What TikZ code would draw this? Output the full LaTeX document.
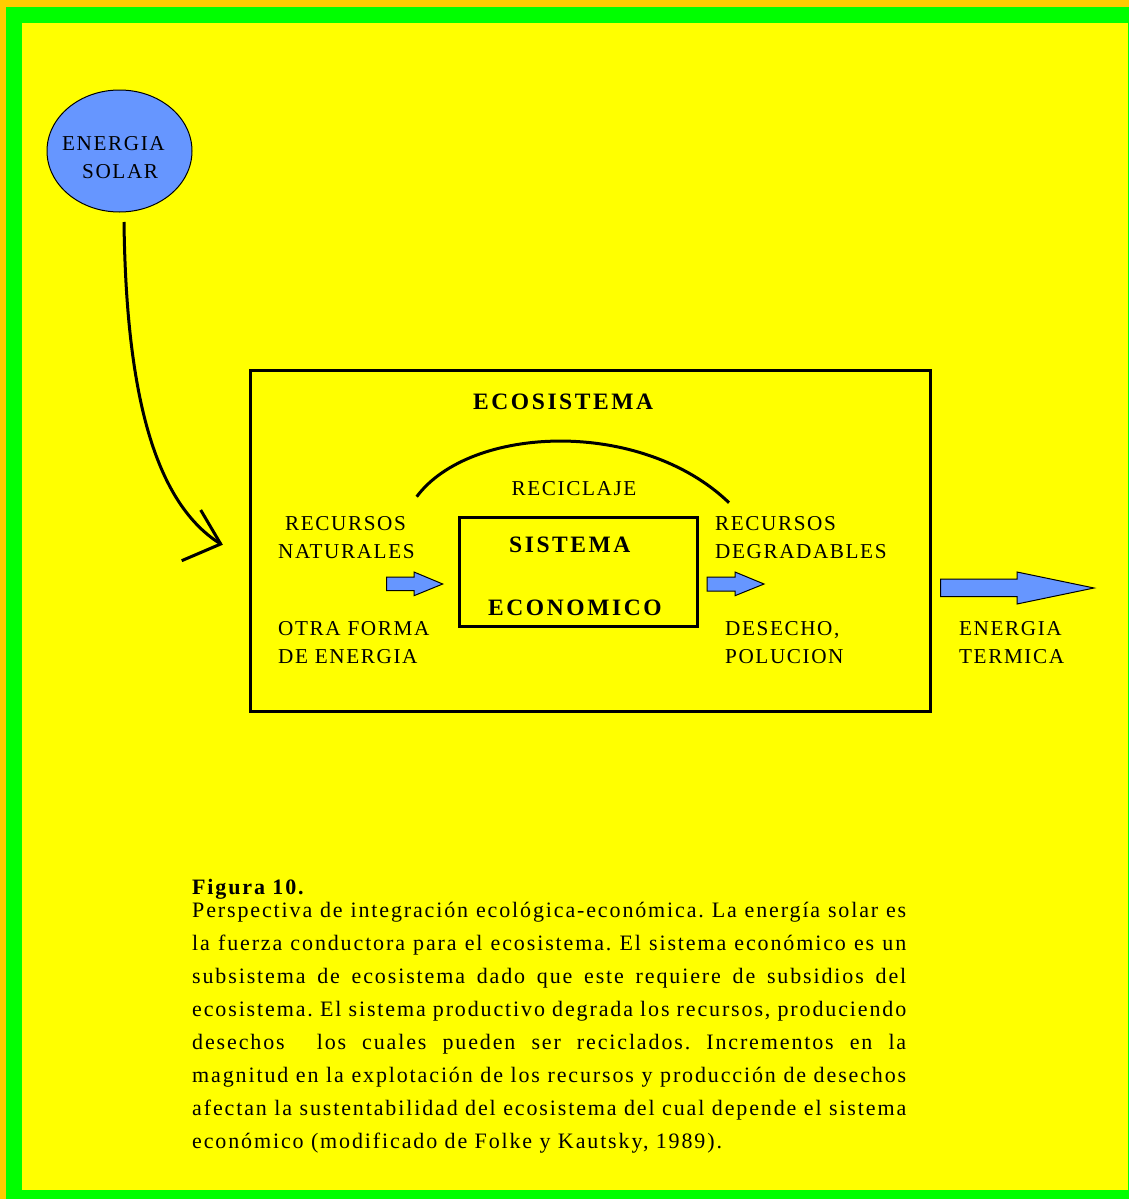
\documentclass[tikz,border=0pt]{standalone}
\usepackage{fontspec}
\usetikzlibrary{shapes.geometric}
\setmainfont{Liberation Serif}
\newfontfamily\labfont[LetterSpace=7.5]{Liberation Serif}
\newfontfamily\ecofont[LetterSpace=11]{Liberation Serif}
\newfontfamily\capfont[LetterSpace=8.5]{Liberation Serif}
\definecolor{bgorange}{RGB}{255,204,0}
\definecolor{bggreen}{RGB}{0,255,0}
\definecolor{bgyellow}{RGB}{255,255,0}
\definecolor{arrowblue}{RGB}{102,150,255}
\tikzset{
  lab/.style={anchor=base west, inner sep=0pt, font=\labfont\fontsize{21.2}{25}\selectfont},
  boldlab/.style={anchor=base west, inner sep=0pt, font=\ecofont\bfseries\fontsize{23.5}{28}\selectfont},
  thickbox/.style={draw=black, line width=3pt, inner sep=0pt},
  thickline/.style={draw=black, line width=3pt},
  blockarrow/.style={fill=arrowblue, draw=black, line width=1pt, line join=miter}
}
\begin{document}
\begin{tikzpicture}[x=1pt,y=-1pt]
\useasboundingbox (0,0) rectangle (1129,1199);
% frame
\fill[bgorange] (0,0) rectangle (1129,1199);
\fill[bggreen] (6,7.3) rectangle (1129,1199);
\fill[bgyellow] (22,23.3) rectangle (1127.7,1190);

% energia solar
\node[ellipse, draw=black, line width=1pt, fill=arrowblue, minimum width=145pt, minimum height=122pt, inner sep=0pt] (solar) at (119.5,151) {};
\node[lab] (sol1) at (62,150) {ENERGIA};
\node[lab] (sol2) at (82,178) {SOLAR};

% curved arrow
\coordinate (cstart) at (124,222);
\coordinate (ctip) at (220.7,544);
\coordinate (cw1) at (200.7,510);
\coordinate (cw2) at (181.7,560.7);
\draw[thickline] (cstart) .. controls (126,380) and (150,500) .. (ctip);
\draw[thickline, line join=miter] (cw1) -- (ctip) -- (cw2);

% ecosistema
\node[thickbox, minimum width=680pt, minimum height=341pt] (eco) at (590,540.5) {};
\node[boldlab] (ecot) at (473,409) {ECOSISTEMA};

% reciclaje arc
\coordinate (arcL) at (416.7,496.7);
\coordinate (arcR) at (729,502.7);
\draw[thickline] (arcL) .. controls (470,425) and (641,418) .. (arcR);
\node[lab] (recic) at (511.5,495.7) {RECICLAJE};

% sistema economico
\node[thickbox, minimum width=238pt, minimum height=109pt] (sis) at (578,571.5) {};
\node[boldlab] (sis1) at (509,552) {SISTEMA};
\node[boldlab] (sis2) at (488,615) {ECONOMICO};

% labels
\node[lab] (rn1) at (285,530) {RECURSOS};
\node[lab] (rn2) at (278,558) {NATURALES};
\node[lab] (of1) at (278,635) {OTRA FORMA};
\node[lab] (of2) at (278,663) {DE ENERGIA};
\node[lab] (rd1) at (715,530) {RECURSOS};
\node[lab] (rd2) at (715,558) {DEGRADABLES};
\node[lab] (dp1) at (725,635) {DESECHO,};
\node[lab] (dp2) at (725,663) {POLUCION};
\node[lab] (et1) at (959,635) {ENERGIA};
\node[lab] (et2) at (959,663) {TERMICA};

% block arrows
\draw[blockarrow] (386.7,577) -- (414,577) -- (414,572) -- (442.7,584) -- (414,595.7) -- (414,590.7) -- (386.7,590.7) -- cycle;
\draw[blockarrow] (707,577) -- (735,577) -- (735,572) -- (764,584) -- (735,595.7) -- (735,591) -- (707,591) -- cycle;
\draw[blockarrow] (940.7,579) -- (1017,579) -- (1017,572) -- (1094,588) -- (1017,604) -- (1017,596.7) -- (940.7,596.7) -- cycle;

% caption
\node[anchor=base west, inner sep=0pt, font=\capfont\bfseries\fontsize{22}{25}\selectfont] (figt) at (192,894) {Figura 10.};
\node[anchor=base west, inner sep=0pt, font=\capfont\fontsize{22}{33}\selectfont] (capt) at (192,917) {\parbox[t]{714pt}{\frenchspacing\setlength{\parindent}{0pt}\setlength{\parskip}{0pt}%
\makebox[714pt][s]{Perspectiva de integración ecológica-económica. La energía solar es}\par
\makebox[714pt][s]{la fuerza conductora para el ecosistema. El sistema económico es un}\par
\makebox[714pt][s]{subsistema de ecosistema dado que este requiere de subsidios del}\par
\makebox[714pt][s]{ecosistema. El sistema productivo degrada los recursos, produciendo}\par
\makebox[714pt][s]{desechos\ \ los cuales pueden ser reciclados. Incrementos en la}\par
\makebox[714pt][s]{magnitud en la explotación de los recursos y producción de desechos}\par
\makebox[714pt][s]{afectan la sustentabilidad del ecosistema del cual depende el sistema}\par
económico (modificado de Folke y Kautsky, 1989).}};
\end{tikzpicture}
\end{document}
